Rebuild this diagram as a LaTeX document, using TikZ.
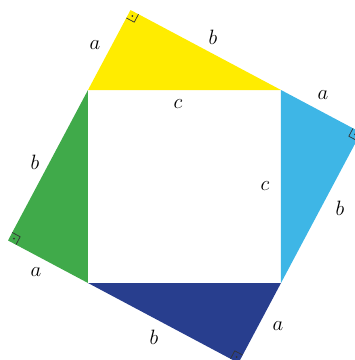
\documentclass[tikz,border=0pt]{standalone}
\usetikzlibrary{calc}

\definecolor{amarillo}{RGB}{255,236,0}
\definecolor{celeste}{RGB}{62,182,230}
\definecolor{azul}{RGB}{40,62,142}
\definecolor{verde}{RGB}{64,170,74}

\tikzset{
  lado/.style={font=\huge},
  angrecto/.style={line width=0.7pt, black!80}
}

% Marca de angulo recto: vertice, direccion de un cateto, direccion del otro
\newcommand{\marcarecto}[3]{%
  \draw[angrecto] ($(#1)+(#2:9)$) -- ++(#3:9) -- ($(#1)+(#3:9)$);
  \fill[black!80] ($(#1)+(#2:4.5)+(#3:4.5)$) circle (1);
}

\begin{document}
\begin{tikzpicture}[x=1pt, y=1pt]
  \useasboundingbox (0,0) rectangle (355,360);
  \clip (0,0) rectangle (355,360);

  % Cuadrado interior de lado c
  \coordinate (TL) at (88,270);
  \coordinate (TR) at (281,270);
  \coordinate (BR) at (281,77);
  \coordinate (BL) at (88,77);

  % Vertices de los angulos rectos (cateto a = c cos 62)
  \coordinate (Y) at ($(TL)+(62:90.6)$);
  \coordinate (C) at ($(TR)+(-28:90.6)$);
  \coordinate (A) at ($(BR)+(-118:90.6)$);
  \coordinate (V) at ($(BL)+(152:90.6)$);

  % Los cuatro triangulos
  \fill[amarillo] (TL) -- (Y) -- (TR) -- cycle;
  \fill[celeste] (TR) -- (C) -- (BR) -- cycle;
  \fill[azul] (BR) -- (A) -- (BL) -- cycle;
  \fill[verde] (BL) -- (V) -- (TL) -- cycle;

  % Angulos rectos
  \marcarecto{Y}{242}{-28}
  \marcarecto{C}{152}{-118}
  \marcarecto{A}{62}{152}
  \marcarecto{V}{-28}{62}

  % Etiquetas de los lados
  \node[lado] (ya) at (95,315) {$a$};
  \node[lado] (yb) at (213,323) {$b$};
  \node[lado] (yc) at (178,256) {$c$};
  \node[lado] (ca) at (323,265) {$a$};
  \node[lado] (cb) at (340,152) {$b$};
  \node[lado] (cc) at (265,174) {$c$};
  \node[lado] (vb) at (35,198) {$b$};
  \node[lado] (va) at (36,88) {$a$};
  \node[lado] (ab) at (154,23) {$b$};
  \node[lado] (aa) at (278,34) {$a$};
\end{tikzpicture}
\end{document}
